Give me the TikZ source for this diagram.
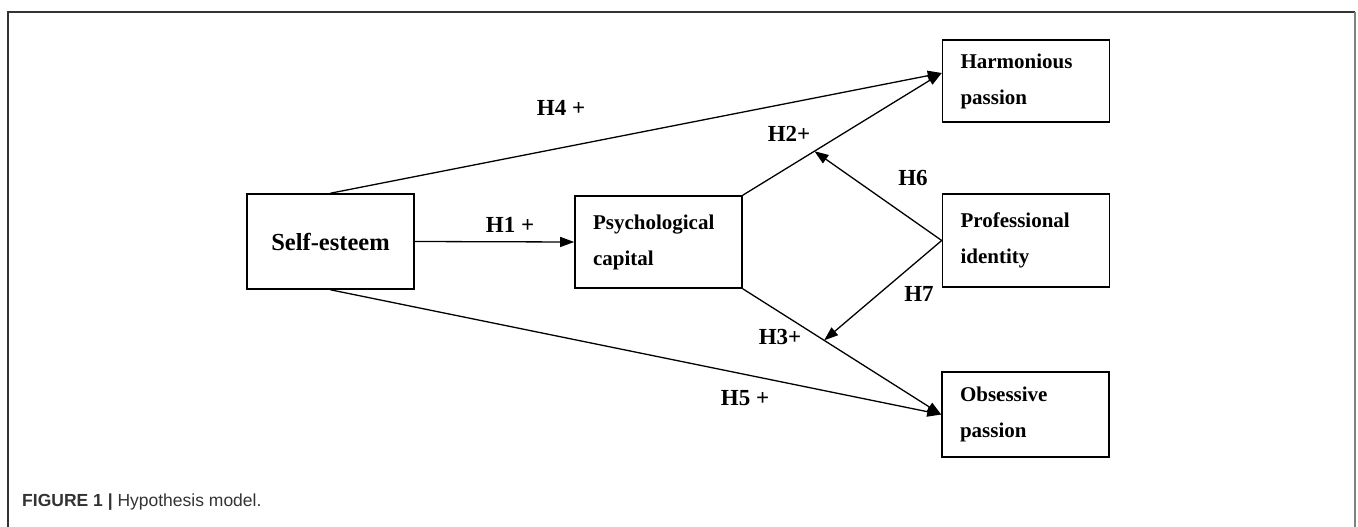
\documentclass[tikz,border=0pt]{standalone}
\usepackage{fontspec}
\setmainfont{Liberation Serif}
\newfontfamily\capfont{Liberation Sans}
\usetikzlibrary{arrows.meta,calc}
\begin{document}
\begin{tikzpicture}[x=1pt,y=-1pt,
  box/.style={draw, line width=1.6pt, minimum width=167pt, inner sep=0pt,
    font=\bfseries\fontsize{21}{36}\selectfont},
  mbox/.style={box, align=left, text width=131pt},
  arr/.style={line width=1.3pt, -{Triangle[length=14pt,width=10pt]}},
  hlab/.style={font=\bfseries\fontsize{23}{23}\selectfont},
  frame/.style={line width=1.5pt, black!80}]
\useasboundingbox (0,0) rectangle (1358,527);
% frame
\draw[frame] (8,527) -- (8,12) -- (1355,12);
\draw[line width=2pt, black!50] (1355,12) -- (1355,527);
% boxes
\node[box, minimum height=95pt, font=\bfseries\fontsize{24.5}{30}\selectfont] (se) at (330.5,241.5) {Self-esteem};
\node[mbox, minimum height=92pt] (pc) at (658.5,242) {Psychological\\capital};
\node[mbox, minimum height=82pt] (hp) at (1026,81) {Harmonious\\passion};
\node[mbox, minimum height=93pt] (pi) at (1026,240.5) {Professional\\identity};
\node[mbox, minimum height=85pt] (op) at (1025.5,414.5) {Obsessive\\passion};
% helper coordinates
\coordinate (hpin) at ($(hp.west)+(0,-8)$);
\coordinate (h6tip) at ($(pc.north east)!0.36!(hpin)$);
\coordinate (h7tip) at ($(pc.south east)!0.41!(op.west)$);
% connectors
\draw[arr] (se.north) -- (hpin);
\draw[arr] (se.east) -- (pc.west);
\draw[arr] (pc.north east) -- (hpin);
\draw[arr] (pc.south east) -- (op.west);
\draw[arr] (se.south) -- (op.west);
\draw[arr] (pi.west) -- (h6tip);
\draw[arr] (pi.west) -- (h7tip);
% labels
\node[hlab] (l4) at (561,108) {H4 +};
\node[hlab] (l1) at (510,225) {H1 +};
\node[hlab] (l2) at (789,134) {H2+};
\node[hlab] (l6) at (913,178) {H6};
\node[hlab] (l7) at (919,294) {H7};
\node[hlab] (l3) at (780,337) {H3+};
\node[hlab] (l5) at (745,398) {H5 +};
% caption
\node[anchor=west, inner sep=0pt, font=\capfont\fontsize{17.5}{18}\selectfont, text=black!80] (cap) at (22,502) {\textbf{FIGURE 1 |} Hypothesis model.};
\end{tikzpicture}
\end{document}
